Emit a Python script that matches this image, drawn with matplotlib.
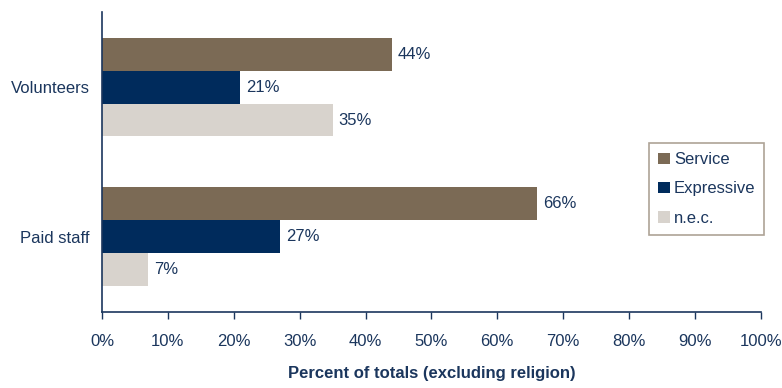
import matplotlib
matplotlib.use("Agg")
import matplotlib.pyplot as plt
import numpy as np

plt.rcParams['font.family'] = ['Liberation Sans', 'DejaVu Sans']

groups = ["Volunteers", "Paid staff"]
series = ["Service", "Expressive", "n.e.c."]
service = [44, 66]
expressive = [21, 27]
nec = [35, 7]
xticks = [0, 10, 20, 30, 40, 50, 60, 70, 80, 90, 100]

colors = ["#7B6A55", "#002B5C", "#D8D3CD"]
navy = "#1B365D"
fs = 12

fig = plt.figure(figsize=(7.82, 3.88), dpi=100)
ax = fig.add_axes([0.1304, 0.196, 0.8425, 0.773])

ypos = np.array([1.0, 0.0])
h = 0.22
for i, (name, vals, c) in enumerate(zip(series, [service, expressive, nec], colors)):
    y = ypos + h - i * h
    ax.barh(y, vals, height=h, color=c, label=name)
    for yy, v in zip(y, vals):
        ax.text(v + 0.9, yy, f"{v}%", va="center", ha="left", fontsize=fs, color=navy)

ax.set_xlim(0, 100)
ax.set_ylim(-0.5, 1.5)
ax.set_xticks(xticks)
ax.set_xticklabels([f"{t}%" for t in xticks])
ax.set_yticks(ypos)
ax.set_yticklabels(groups)
ax.tick_params(axis="x", direction="out", length=5, width=1, color=navy, labelcolor=navy, labelsize=fs, pad=11)
ax.tick_params(axis="y", length=0, labelcolor=navy, labelsize=fs, pad=9)

for s in ["top", "right"]:
    ax.spines[s].set_visible(False)
for s in ["left", "bottom"]:
    ax.spines[s].set_color(navy)
    ax.spines[s].set_linewidth(1.2)

ax.set_xlabel("Percent of totals (excluding religion)", fontsize=fs, fontweight="bold", color=navy, labelpad=12)

leg = ax.legend(loc="upper left", bbox_to_anchor=(0.830, 0.563), frameon=True, fancybox=False,
                fontsize=fs, handlelength=0.7, handleheight=0.7, handletextpad=0.25,
                labelspacing=0.85, borderpad=0.55, borderaxespad=0, labelcolor=navy)
leg.get_frame().set_edgecolor("#9A8C7C")
leg.get_frame().set_linewidth(1.2)

fig.savefig("out.png", dpi=100)
